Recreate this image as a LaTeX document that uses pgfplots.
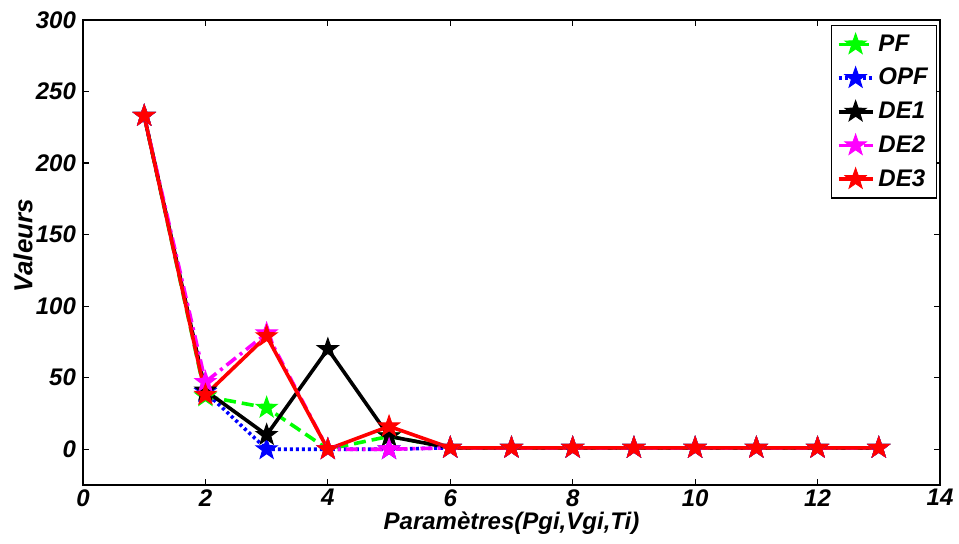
\documentclass[border=0pt]{standalone}
\usepackage{pgfplots}
\pgfplotsset{compat=1.18}
\usepackage{fontspec}
\setmainfont{Liberation Sans}
\definecolor{mgreen}{rgb}{0,1,0}
\definecolor{mblue}{rgb}{0,0,1}
\definecolor{mmag}{rgb}{1,0,1}
\definecolor{mred}{rgb}{1,0,0}
\pgfdeclareplotmark{pentagram}{%
  \pgfpathmoveto{\pgfpointpolar{90}{\pgfplotmarksize}}%
  \pgfpathlineto{\pgfpointpolar{126}{0.4\pgfplotmarksize}}%
  \pgfpathlineto{\pgfpointpolar{162}{\pgfplotmarksize}}%
  \pgfpathlineto{\pgfpointpolar{198}{0.4\pgfplotmarksize}}%
  \pgfpathlineto{\pgfpointpolar{234}{\pgfplotmarksize}}%
  \pgfpathlineto{\pgfpointpolar{270}{0.4\pgfplotmarksize}}%
  \pgfpathlineto{\pgfpointpolar{306}{\pgfplotmarksize}}%
  \pgfpathlineto{\pgfpointpolar{342}{0.4\pgfplotmarksize}}%
  \pgfpathlineto{\pgfpointpolar{18}{\pgfplotmarksize}}%
  \pgfpathlineto{\pgfpointpolar{54}{0.4\pgfplotmarksize}}%
  \pgfpathclose
  \pgfusepathqfillstroke}
\begin{document}
\begin{tikzpicture}
\begin{axis}[
  scale only axis,
  width=428.5pt, height=232.5pt,
  xmin=0, xmax=14, ymin=-25, ymax=300,
  xtick={0,2,...,14}, ytick={0,50,...,300},
  tick align=inside,
  major tick length=3pt,
  axis line style={line width=1pt},
  every tick/.style={black, line width=0.6pt},
  /pgf/number format/assume math mode=true,
  ticklabel style={font=\fontsize{12}{14}\selectfont\bfseries\itshape},
  xticklabel style={inner sep=0.5pt, yshift=-1.5pt},
  xlabel={Paramètres(Pgi,Vgi,Ti)},
  ylabel={Valeurs},
  xlabel style={font=\fontsize{12}{14}\selectfont\bfseries\itshape, inner sep=0.5pt, at={(axis description cs:0.5,-0.054)}, anchor=north},
  ylabel style={font=\fontsize{13}{15}\selectfont\bfseries\itshape, at={(axis description cs:-0.07,0.515)}, anchor=center},
  legend style={at={(0.997,0.989)}, anchor=north east, font=\fontsize{12}{14}\selectfont\bfseries\itshape, draw=black, line width=0.6pt, row sep=3pt, inner sep=2.5pt},
  legend cell align=left,
  every axis plot/.append style={line width=1.8pt, mark=pentagram, mark size=5.5pt, mark options={solid, line width=0.5pt}},
]
\addplot[color=mgreen, dash pattern=on 6pt off 3pt] coordinates {
(1,233) (2,37) (3,29) (4,0) (5,9) (6,1) (7,1) (8,1) (9,1) (10,1) (11,1) (12,1) (13,1)};
\addlegendentry{PF}
\addplot[color=mblue, dash pattern=on 1.5pt off 1.5pt] coordinates {
(1,233) (2,40) (3,0) (4,0) (5,0) (6,1) (7,1) (8,1) (9,1) (10,1) (11,1) (12,1) (13,1)};
\addlegendentry{OPF}
\addplot[color=black, solid] coordinates {
(1,233) (2,41) (3,10) (4,70) (5,9) (6,1) (7,1) (8,1) (9,1) (10,1) (11,1) (12,1) (13,1)};
\addlegendentry{DE1}
\addplot[color=mmag, dash pattern=on 6pt off 2.5pt on 1.5pt off 2.5pt] coordinates {
(1,233) (2,47) (3,81) (4,0) (5,0) (6,1) (7,1) (8,1) (9,1) (10,1) (11,1) (12,1) (13,1)};
\addlegendentry{DE2}
\addplot[color=mred, solid] coordinates {
(1,233) (2,38) (3,79) (4,0) (5,16) (6,1) (7,1) (8,1) (9,1) (10,1) (11,1) (12,1) (13,1)};
\addlegendentry{DE3}
\end{axis}
\pgfresetboundingbox
\path[use as bounding box] ([shift={(-41.5pt,-29pt)}]current axis.south west) rectangle ([shift={(9.5pt,10pt)}]current axis.north east);
\end{tikzpicture}
\end{document}
